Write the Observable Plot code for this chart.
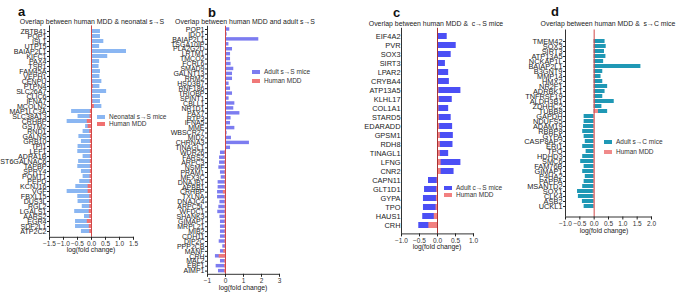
<!DOCTYPE html>
<html>
<head>
<meta charset="utf-8">
<script src="https://cdn.jsdelivr.net/npm/d3@7"></script>
<script src="https://cdn.jsdelivr.net/npm/@observablehq/plot@0.6"></script>
<style>
  html, body { margin: 0; padding: 0; background: #fff; }
  #wrap { position: relative; width: 682px; height: 292px; overflow: hidden; font-family: "Liberation Sans", Arial, sans-serif; color: #222; }
  .abs { position: absolute; white-space: pre; line-height: 1; }
  .letter { font-weight: bold; font-size: 13px; color: #111; }
  .title { font-size: 6.9px; color: #222; transform: translate(-50%, -50%); }
  .xlab { font-size: 6.8px; color: #222; transform: translate(-50%, -50%); }
  .leg { font-size: 6.5px; color: #333; transform: translateY(-50%); }
  .sw { position: absolute; width: 8px; height: 4px; }
  svg { position: absolute; overflow: visible; }
</style>
</head>
<body>
<div id="wrap"></div>
<script>
// ---------- Panel a: human MDD & neonatal s→S ----------
const aGenes = ["ZBTB41","POP1","ISL1","UTP15","BAIAP2L1","KIFC1","PAX4","TSR1","FAM45A","VEPH1","CENPU","PTPN4","SLC26A7","CLIC6","IFNA7","MCOLN2","MAP1LC3A","SLC38A13","CRHBP","GSTM2","RND1","GALNS","GRB10","TPI1","LEF1","ADRA1B","ST6GALNAC6","TAPBP","SPRY4","POMT1","PEPD","KCNJ16","VGF","FBXL15","DUS3L","RGL2","LGALS1","AARS2","EGR4","SDF2L1","ATP2C2"];
const aMice = [0.32,0.32,0.44,0.29,1.25,0.58,0.29,0.27,0.32,0.30,0.37,0.30,0.54,0.32,0.32,0.37,-0.71,-0.48,-0.87,-0.21,-0.30,-0.45,-0.36,-0.48,-0.49,-0.30,-0.46,-0.49,-0.36,-0.30,-0.42,-0.56,-0.87,-0.49,-0.48,-0.33,-0.60,-0.25,-0.57,-0.57,-0.36];
const aHuman = [0.03,0.03,0.03,0.03,0.03,0.03,0.03,0.03,0.03,0.03,0.04,0.06,0.04,0.04,0.05,0.10,-0.04,-0.05,-0.15,-0.12,-0.06,-0.04,-0.04,-0.04,-0.04,-0.04,-0.04,-0.04,-0.04,-0.05,-0.05,-0.12,-0.12,-0.06,-0.06,-0.06,-0.08,-0.06,-0.15,-0.08,-0.06];
const aTicks = [-1.5,-1.0,-0.5,0,0.5,1.0,1.5];

// ---------- Panel b: human MDD and adult s→S ----------
const bGenes = ["POP1","IDO1","BAIAP2L1","TSGA10IP","PLA2G2D","LRTM1","TMCO2","FCRL6","SMAD9","GALNT13","RRM2","HSD3B7","RNF186","TRIOBP","SPINT1","CBLL1","NR1D1","PAX7","RTP3","IFNA5","MME","WBSCR27","MID2","CHRNA3","TINAGL1","WDR26","FARS2","ARPC3","NSMF","PRAM1","MEX3C","DNAJB1","APBB1","CRHBP","TXLNA","DNAJC4","ARPC5L","WFDC1","SHANK3","GIMAP1","MRPL21","MIB2","CDH11","DIP2C","PPP2CB","MANF","CRH","MAL2","EBF1","AIMP1"];
const bMice = [0.24,0.09,1.85,0.19,0.39,0.28,0.28,0.31,0.46,0.39,0.39,0.20,0.28,0.39,0.20,0.52,0.46,0.80,0.31,0.28,0.52,0.09,0.33,1.33,0.28,-0.28,-0.33,-0.33,-0.37,-0.28,-0.24,-0.41,-0.41,-0.44,-0.44,-0.31,-0.37,-0.43,-0.31,-0.28,-0.28,-0.28,-0.28,-0.35,-0.15,-0.28,-0.56,-0.28,-0.52,-0.39];
const bHuman = [0.02,0.02,0.02,0.02,0.02,0.02,0.02,0.02,0.02,0.02,0.02,0.02,0.02,0.02,0.02,0.02,0.02,0.03,0.02,0.02,0.02,0.02,0.02,0.03,0.02,-0.03,-0.03,-0.03,-0.03,-0.03,-0.03,-0.03,-0.03,-0.12,-0.04,-0.03,-0.03,-0.03,-0.03,-0.03,-0.03,-0.03,-0.03,-0.03,-0.03,-0.10,-0.35,-0.04,-0.05,-0.05];
const bTicks = [-1,0,1,2,3];

// ---------- Panel c: human MDD & c→S mice ----------
const cGenes = ["EIF4A2","PVR","SOX3","SIRT3","LPAR2","CRYBA4","ATP13A5","KLHL17","COL1A1","STARD5","EDARADD","GPSM1","RDH8","TINAGL1","LFNG","CNR2","CAPN11","GLT1D1","GYPA","TPO","HAUS1","CRH"];
const cMice = [0.27,0.52,0.38,0.22,0.31,0.33,0.65,0.41,0.31,0.38,0.42,0.44,0.43,0.31,0.65,0.46,-0.25,-0.36,-0.39,-0.39,-0.41,-0.52];
const cHuman = [0.01,0.02,0.02,0.02,0.03,0.03,0.04,0.05,0.04,0.05,0.06,0.08,0.08,0.08,0.10,0.10,-0.01,-0.02,-0.03,-0.04,-0.09,-0.24];
const cTicks = [-1.0,-0.5,0,0.5,1.0];

// ---------- Panel d: human MDD & s→C mice ----------
const dGenes = ["TMEM42","SOX3","SIRT3","ATP13A5","NCKAP1L","BAIAP2L1","B3GNT9","MMP14","HMX2","NR2F1","ADRBK1","TNFRSF19","ALDH3B1","ZDHHC2","TUBB8","GAPDH","NDUFS5","ADAM19","RBBP8","GYPA","CASP8AP2","ERI1","TPO","HDHD3","SMC6","FAM76B","GIMAP1","P4HA2","PAPPA","MSANTD2","SOX1","CLK4","ASB2","UCKL1"];
const dMice = [0.38,0.42,0.36,0.41,0.33,1.63,0.30,0.24,0.30,0.47,0.38,0.30,0.70,0.27,0.47,-0.35,-0.35,-0.37,-0.40,-0.35,-0.31,-0.40,-0.28,-0.40,-0.47,-0.35,-0.40,-0.31,-0.35,-0.40,-0.58,-0.55,-0.41,-0.35];
const dHuman = [0.02,0.02,0.02,0.02,0.02,0.02,0.02,0.02,0.02,0.02,0.02,0.02,0.03,0.03,0.15,-0.02,-0.02,-0.02,-0.02,-0.02,-0.02,-0.02,-0.02,-0.02,-0.02,-0.02,-0.02,-0.02,-0.02,-0.02,-0.03,-0.03,-0.02,-0.02];
const dTicks = [-1.0,-0.5,0,0.5,1.0,1.5,2.0];

const wrap = document.getElementById("wrap");
const f1 = d3.format(".1f");
const f0 = d3.format("d");

function addDiv(cls, text, x, y, extra) {
  const el = document.createElement("div");
  el.className = "abs " + cls;
  el.textContent = text;
  el.style.left = x + "px";
  el.style.top = y + "px";
  if (extra) Object.assign(el.style, extra);
  wrap.appendChild(el);
  return el;
}

function panel(o) {
  const data = o.genes.map((g, i) => ({gene: g, mice: o.mice[i], human: o.human[i]}));
  const chart = Plot.plot({
    width: o.w, height: o.h,
    marginLeft: o.fx0 - o.left, marginRight: o.left + o.w - o.fx1,
    marginTop: o.fy0 - o.top, marginBottom: o.top + o.h - o.fy1,
    style: {fontFamily: '"Liberation Sans", Arial, sans-serif', fontSize: "6.5px", color: "#222", background: "transparent"},
    x: {domain: o.xDomain, label: null},
    y: {domain: o.genes, paddingInner: o.pi, paddingOuter: o.po, label: null},
    marks: [
      Plot.barX(data, {y: "gene", x: "mice", fill: o.mColor}),
      Plot.barX(data, {y: "gene", x: "human", fill: o.hColor}),
      Plot.ruleX([0], {stroke: o.zColor, strokeWidth: 1}),
      Plot.ruleX([o.xDomain[0]], {stroke: "#333", strokeWidth: 1}),
      Plot.frame({anchor: "bottom", stroke: "#333"}),
      Plot.axisX({ticks: o.xTicks, tickFormat: o.fmt, tickSize: 3, tickPadding: 1, label: null, fontSize: 6.5, fill: "#333"}),
      Plot.axisY({tickSize: o.yTick, tickPadding: 1, label: null, fontSize: o.yFont, fill: "#222"})
    ]
  });
  chart.style.left = o.left + "px";
  chart.style.top = o.top + "px";
  wrap.appendChild(chart);
}

function legend(x, y1, y2, mLabel, mColor, hColor) {
  const s1 = document.createElement("div"); s1.className = "sw";
  Object.assign(s1.style, {left: x + "px", top: (y1 - 2) + "px", background: mColor});
  const s2 = document.createElement("div"); s2.className = "sw";
  Object.assign(s2.style, {left: x + "px", top: (y2 - 2) + "px", background: hColor});
  wrap.appendChild(s1); wrap.appendChild(s2);
  addDiv("leg", mLabel, x + 12, y1);
  addDiv("leg", "Human MDD", x + 12, y2);
}

// Panel a
panel({genes: aGenes, mice: aMice, human: aHuman, left: 0, top: 0, w: 170, h: 260,
  fx0: 49, fx1: 133, fy0: 25.4, fy1: 236.8, xDomain: [-1.5, 1.5], xTicks: aTicks, fmt: f1,
  pi: 0.2, po: 0.2, mColor: "#8ab6f2", hColor: "#f07070", zColor: "#d04848", yTick: 2, yFont: 7.1});
addDiv("letter", "a", 18, 5);
addDiv("title", "Overlap between human MDD & neonatal s\u2192S", 92, 22);
addDiv("xlab", "log(fold change)", 91, 250);
legend(97, 117, 123.5, "Neonatal s\u2192S mice", "#8ab6f2", "#f07070");

// Panel b
panel({genes: bGenes, mice: bMice, human: bHuman, left: 170, top: 0, w: 165, h: 292,
  fx0: 207, fx1: 279, fy0: 25.8, fy1: 273.8, xDomain: [-1, 3], xTicks: bTicks, fmt: f0,
  pi: 0.3, po: 0.3, mColor: "#7c7cf0", hColor: "#f07878", zColor: "#d04848", yTick: 2, yFont: 7});
addDiv("letter", "b", 208, 6);
addDiv("title", "Overlap between human MDD and adult s\u2192S", 245, 22);
addDiv("xlab", "log(fold change)", 243, 287.5);
legend(252, 72, 81, "Adult s\u2192S mice", "#7c7cf0", "#f07878");

// Panel c
panel({genes: cGenes, mice: cMice, human: cHuman, left: 335, top: 0, w: 175, h: 292,
  fx0: 401, fx1: 473, fy0: 27.8, fy1: 233.4, xDomain: [-1, 1], xTicks: cTicks, fmt: f1,
  pi: 0.35, po: 0.35, mColor: "#4b4ff5", hColor: "#f28080", zColor: "#a83232", yTick: 0, yFont: 7.4});
addDiv("letter", "c", 393, 6);
addDiv("title", "Overlap between human MDD &  c\u2192S mice", 436, 24);
addDiv("xlab", "log(fold change)", 437, 247);
legend(444, 188, 195, "Adult c\u2192S mice", "#4b4ff5", "#f28080");

// Panel d
panel({genes: dGenes, mice: dMice, human: dHuman, left: 510, top: 0, w: 172, h: 292,
  fx0: 565, fx1: 651, fy0: 29.5, fy1: 216.5, xDomain: [-1, 2], xTicks: dTicks, fmt: f1,
  pi: 0.25, po: 0.35, mColor: "#1f98b5", hColor: "#f08a8a", zColor: "#d04848", yTick: 2, yFont: 7.4});
addDiv("letter", "d", 551, 5);
addDiv("title", "Overlap between human MDD &  s\u2192C mice", 608, 24);
addDiv("xlab", "log(fold change)", 604, 231);
legend(604, 141.7, 151.7, "Adult s\u2192C mice", "#1f98b5", "#f08a8a");
</script>
</body>
</html>
